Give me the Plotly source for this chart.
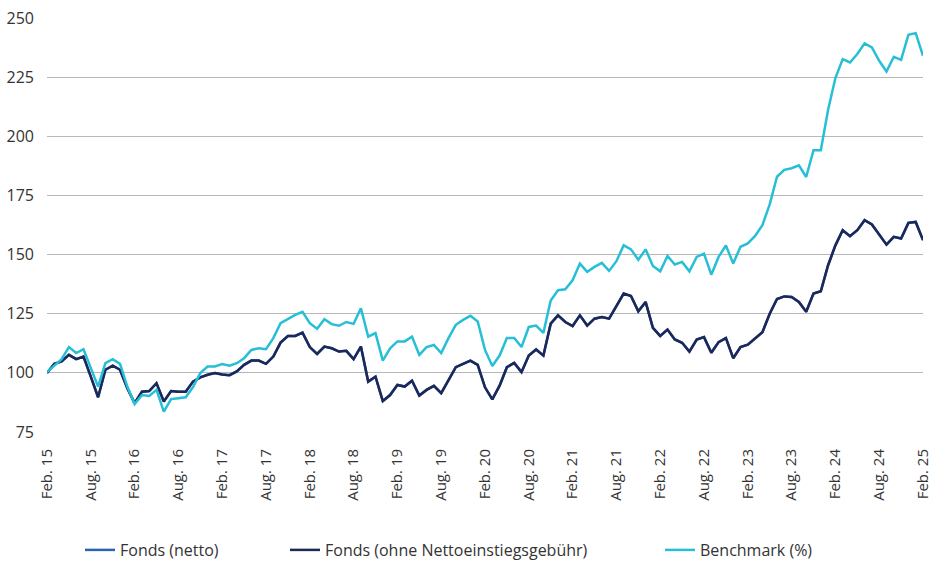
import plotly.graph_objects as go

months = list(range(121))
tick_pos = list(range(0, 121, 6))
tick_labels = ["Feb. 15", "Aug. 15", "Feb. 16", "Aug. 16", "Feb. 17", "Aug. 17", "Feb. 18",
               "Aug. 18", "Feb. 19", "Aug. 19", "Feb. 20", "Aug. 20", "Feb. 21", "Aug. 21",
               "Feb. 22", "Aug. 22", "Feb. 23", "Aug. 23", "Feb. 24", "Aug. 24", "Feb. 25"]

fonds_ohne = [
    100, 103.8, 104.8, 107.6, 105.8, 106.9, 98.4, 89.7, 101.3, 103,
    101.3, 93.5, 87.2, 92, 92.3, 95.6, 87.9, 92.3, 92, 92,
    96.3, 98.1, 99.2, 99.9, 99.3, 99, 100.6, 103.4, 105.2, 105.2,
    103.8, 106.9, 112.8, 115.6, 115.6, 117, 110.9, 108, 111.1, 110.4,
    109, 109.3, 105.8, 111.1, 96.3, 98.4, 88.1, 90.6, 94.9, 94.2,
    96.7, 90.4, 92.8, 94.5, 91.4, 97, 102.4, 103.8, 105.2, 103.4,
    93.9, 88.8, 94.6, 102.4, 104.2, 100.3, 107.3, 109.9, 107.3, 120.8,
    124.3, 121.5, 119.8, 124.3, 120, 122.9, 123.6, 122.9, 128.3, 133.5,
    132.5, 126, 130, 119, 115.6, 118.3, 114.1, 112.7, 109, 114.1,
    115.1, 108.5, 113, 114.7, 106.2, 110.9, 111.9, 114.4, 117.2, 125,
    131.2, 132.3, 132.1, 130, 125.8, 133.5, 134.5, 145.5, 153.9, 160.3,
    157.8, 160.3, 164.5, 162.7, 158.5, 154.2, 157.5, 156.8, 163.4, 163.8,
    156.1]

# Fonds (netto) is fully covered by the fund line in the reference
fonds_netto = list(fonds_ohne)

benchmark = [
    100.3, 103, 105.8, 110.9, 108.4, 110, 102, 94.2, 104.1, 105.8,
    103.8, 94.2, 86.8, 90.6, 90.2, 92.8, 83.6, 88.9, 89.3, 89.7,
    94, 99.9, 102.7, 102.7, 103.7, 103, 104.1, 106.2, 109.7, 110.4,
    110, 114.7, 121, 122.7, 124.5, 125.8, 121, 118.6, 122.7, 120.6,
    119.9, 121.5, 120.7, 127.3, 115.3, 116.8, 105.2, 110.4, 113.3, 113.3,
    115.3, 107.6, 110.9, 111.8, 108.4, 114.7, 120.3, 122.4, 124.1, 121.7,
    109.7, 102.9, 107.3, 114.7, 114.7, 110.9, 119.4, 120, 116.9, 130.6,
    134.9, 135.3, 139.1, 146.2, 142.7, 144.8, 146.5, 143.1, 147.2, 153.9,
    152.2, 147.8, 152.2, 145.2, 142.9, 149.4, 145.8, 146.9, 142.9, 149,
    150.4, 141.5, 149, 153.9, 146.2, 153.3, 154.7, 157.9, 162.4, 171.2,
    182.9, 185.8, 186.5, 187.7, 182.8, 194.1, 194.1, 211.2, 224.6, 232.6,
    231.2, 234.8, 239.3, 237.6, 231.9, 227.4, 233.6, 232.3, 242.9, 243.6,
    234]

fig = go.Figure()
fig.add_trace(go.Scatter(x=months, y=fonds_netto, mode="lines", name="Fonds (netto)",
                         line=dict(color="#2a64b0", width=2.5), legend="legend"))
fig.add_trace(go.Scatter(x=months, y=fonds_ohne, mode="lines",
                         name="Fonds (ohne Nettoeinstiegsgebühr)",
                         line=dict(color="#1b2858", width=2.5), legend="legend2"))
fig.add_trace(go.Scatter(x=months, y=benchmark, mode="lines", name="Benchmark (%)",
                         line=dict(color="#27bfd6", width=2.5), legend="legend3"))

PLOT_W = 932 - 47 - 9
leg_common = dict(orientation="h", xanchor="left", yanchor="middle", y=-0.285,
                  font=dict(size=16, color="#333333", family="Open Sans"),
                  bgcolor="rgba(0,0,0,0)")

fig.update_layout(
    width=932, height=562,
    margin=dict(l=47, r=9, t=18, b=130, autoexpand=False),
    paper_bgcolor="white", plot_bgcolor="white",
    font=dict(family="Open Sans", color="#333333", size=15),
    showlegend=True,
    legend=dict(x=(80 - 47) / PLOT_W, **leg_common),
    legend2=dict(x=(285 - 47) / PLOT_W, **leg_common),
    legend3=dict(x=(660 - 47) / PLOT_W, **leg_common),
    xaxis=dict(range=[0, 120], tickmode="array", tickvals=tick_pos, ticktext=tick_labels,
               tickangle=-90, showgrid=False, zeroline=False, showline=False,
               ticklabelstandoff=13, ticklabeloverflow="allow",
               tickfont=dict(size=15, color="#333333")),
    yaxis=dict(range=[75, 250], dtick=25, tick0=75, showgrid=True, gridcolor="#b8b8b8",
               gridwidth=1, zeroline=False, showline=False, ticklabelstandoff=12,
               tickfont=dict(size=16, color="#333333")),
)

fig.write_html("out.html", config={"displayModeBar": False},
               post_script="document.body.style.margin='0';")
